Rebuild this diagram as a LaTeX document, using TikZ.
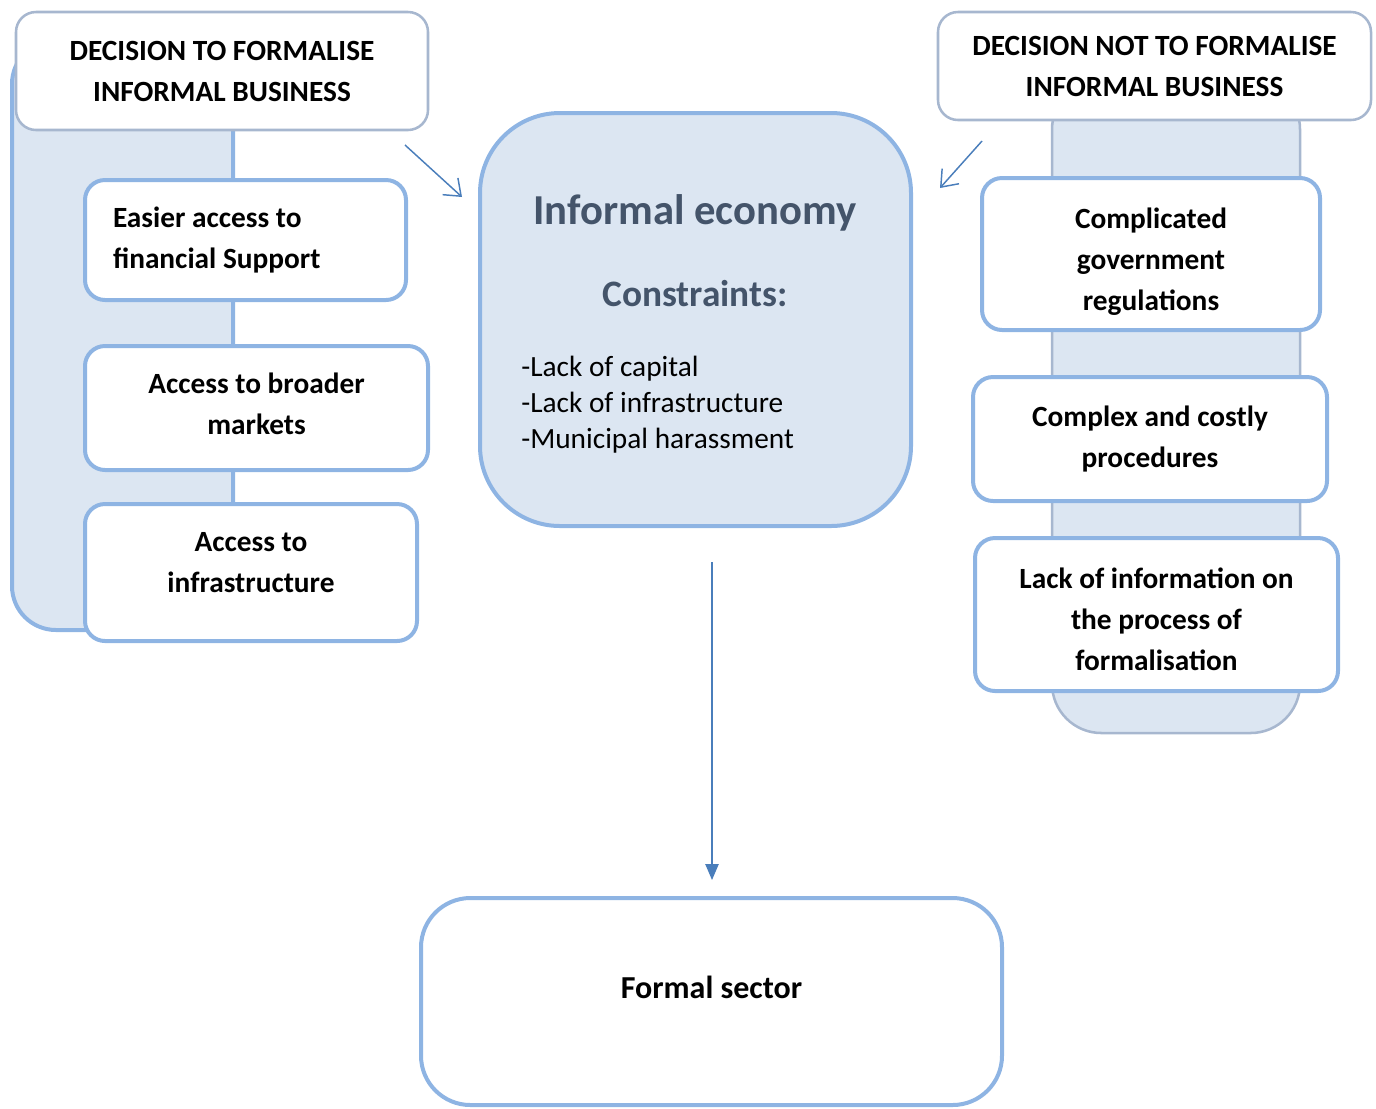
\documentclass[tikz,border=0pt]{standalone}
\usepackage{fontspec}
\setmainfont{Carlito}
\usetikzlibrary{positioning,arrows.meta}
\definecolor{boxblue}{HTML}{8EB4E3}
\definecolor{boxgray}{HTML}{A7B7CF}
\definecolor{boxfill}{HTML}{DCE6F2}
\definecolor{arrowblue}{HTML}{4A7EBB}
\definecolor{titlegray}{HTML}{44546A}
\tikzset{
	header/.style={draw=boxgray, line width=1.9pt, fill=white, rounded corners=15pt, align=center, font=\bfseries\fontsize{22}{30.75}\selectfont},
	reason/.style={draw=boxblue, line width=3pt, fill=white, rounded corners=15pt, align=center, font=\bfseries\fontsize{22}{30.75}\selectfont},
	link/.style={draw=arrowblue, line width=1.1pt, -{Straight Barb[length=11pt,width=17pt]}},
}

\begin{document}
\begin{tikzpicture}[x=0.75pt,y=-0.75pt]
	\useasboundingbox (0,0) rectangle (1376,1108);
	\draw[boxblue, fill=boxfill, line width=3pt, rounded corners=33pt] (12,40) rectangle (233,630);
	\draw[boxgray, fill=boxfill, line width=1.9pt, rounded corners=37pt] (1052,80) rectangle (1300,733);

	\node[header, minimum width=309pt, minimum height=88.5pt] (decL) at (222,71) {DECISION TO FORMALISE\\INFORMAL BUSINESS};
	\node[header, minimum width=324.75pt, minimum height=81pt] (decR) at (1154.5,66) {DECISION NOT TO FORMALISE\\INFORMAL BUSINESS};

	\node[reason, align=left, text width=198.75pt, inner xsep=21pt, minimum height=90pt] (fin) at (245.5,240) {\spaceskip=0pt\relax Easier access to\\financial Support};
	\node[reason, minimum width=257.25pt, minimum height=93pt, text depth=7pt] (mkt) at (256.5,408) {Access to broader\\markets};
	\node[reason, minimum width=249pt, minimum height=102.75pt, text depth=15.5pt] (infra) at (251,572.5) {Access to\\infrastructure};

	\node[reason, minimum width=253.5pt, minimum height=114pt, text height=84pt, text depth=0pt] (reg) at (1151,254) {Complicated\\government\\regulations};
	\node[reason, minimum width=265.5pt, minimum height=93pt] (proc) at (1150,439) {Complex and costly\\procedures};
	\node[reason, minimum width=272.25pt, minimum height=114.75pt, text height=84pt, text depth=0pt] (info) at (1156.5,614.5) {Lack of information on\\the process of\\formalisation};

	\node[draw=boxblue, fill=boxfill, line width=3pt, rounded corners=60pt, minimum width=323.25pt, minimum height=309.75pt] (eco) at (695.5,319.5) {};
	\node[font=\bfseries\fontsize{32}{38}\selectfont, text=titlegray, anchor=base] (ttl) at (695,224) {Informal economy};
	\node[font=\bfseries\fontsize{28}{32}\selectfont, text=titlegray, anchor=base] (cons) at (695,306) {Constraints:};
	\node[font=\fontsize{22}{27}\selectfont, align=left, inner sep=0pt, anchor=north west] (lst) at (521,356) {-Lack of capital\\-Lack of infrastructure\\-Municipal harassment};

	\node[reason, rounded corners=37pt, minimum width=435.75pt, minimum height=155.25pt, font=\bfseries\fontsize{24}{30}\selectfont, text depth=22pt] (fs) at (711.5,1001.5) {Formal sector};

	\coordinate (l0) at (405,145);
	\coordinate (l1) at (462,197);
	\coordinate (r0) at (982,141);
	\coordinate (r1) at (940,188);
	\coordinate (d0) at (712,562);
	\coordinate (d1) at (712,880);
	\draw[link] (l0) -- (l1);
	\draw[link] (r0) -- (r1);
	\draw[draw=arrowblue, line width=1.1pt, -{Triangle[length=12pt,width=10pt]}, arrowblue] (d0) -- (d1);
\end{tikzpicture}
\end{document}
